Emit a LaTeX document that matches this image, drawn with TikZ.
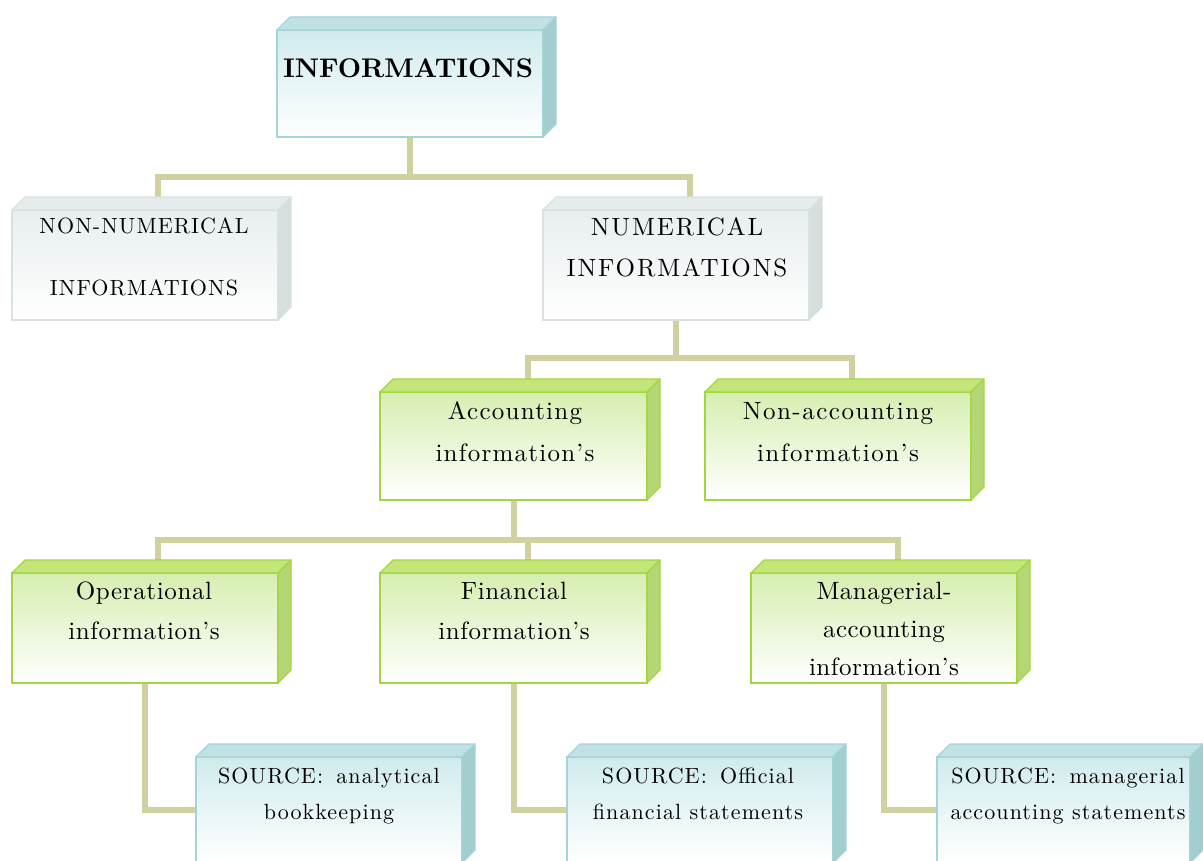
\documentclass[tikz,border=0pt]{standalone}
\usepackage{fontspec}
\setmainfont{lmroman10}[Extension=.otf, UprightFont=*-regular, BoldFont=*-bold, ItalicFont=*-italic, BoldItalicFont=*-bolditalic]
\usetikzlibrary{calc,backgrounds}
\definecolor{bluebd}{RGB}{164,212,214}
\definecolor{bluetopf}{RGB}{192,226,228}
\definecolor{bluesidef}{RGB}{162,206,208}
\definecolor{bluegrad}{RGB}{208,235,237}
\definecolor{greybd}{RGB}{216,224,224}
\definecolor{greytopf}{RGB}{230,236,236}
\definecolor{greysidef}{RGB}{214,222,222}
\definecolor{greygrad}{RGB}{232,238,238}
\definecolor{greenbd}{RGB}{162,214,62}
\definecolor{greentopf}{RGB}{196,230,120}
\definecolor{greensidef}{RGB}{180,214,116}
\definecolor{greengrad}{RGB}{214,238,176}
\definecolor{connc}{RGB}{208,208,160}
\newcommand{\cubefaces}[4]{%
  \filldraw[fill=#2, draw=#4, line width=1.2pt, line join=round] (#1.north west) -- ++(13,-13) -- ($(#1.north east)+(13,-13)$) -- (#1.north east) -- cycle;
  \filldraw[fill=#3, draw=#4, line width=1.2pt, line join=round] (#1.north east) -- ++(13,-13) -- ($(#1.south east)+(13,-13)$) -- (#1.south east) -- cycle;
}
\newcommand{\ls}[1]{\addfontfeatures{LetterSpace=#1}}
\tikzset{
  front/.style={rectangle, outer sep=0pt, inner sep=0pt, bottom color=white},
  bluebox/.style={front, draw=bluebd, line width=2pt, top color=bluegrad},
  greybox/.style={front, draw=greybd, line width=2pt, top color=greygrad},
  greenbox/.style={front, draw=greenbd, line width=2.6pt, top color=greengrad},
  conn/.style={draw=connc, line width=6pt, line join=miter},
  txt/.style={inner sep=0pt, outer sep=0pt, anchor=north, align=center, text=black},
}
\begin{document}
\begin{tikzpicture}[x=1pt, y=-1pt]
\useasboundingbox (0,0) rectangle (1203,861);
\clip (0,0) rectangle (1203,861);
% boxes
\node[bluebox, minimum width=266pt, minimum height=107pt] (info) at (410,83.5) {};
\cubefaces{info}{bluetopf}{bluesidef}{bluebd}
\node[greybox, minimum width=266pt, minimum height=110pt] (nonnum) at (145,265) {};
\cubefaces{nonnum}{greytopf}{greysidef}{greybd}
\node[greybox, minimum width=266pt, minimum height=110pt] (num) at (676,265) {};
\cubefaces{num}{greytopf}{greysidef}{greybd}
\node[greenbox, minimum width=267pt, minimum height=108pt] (acc) at (513.5,446) {};
\cubefaces{acc}{greentopf}{greensidef}{greenbd}
\node[greenbox, minimum width=266pt, minimum height=108pt] (nonacc) at (838,446) {};
\cubefaces{nonacc}{greentopf}{greensidef}{greenbd}
\node[greenbox, minimum width=266pt, minimum height=110pt] (op) at (145,628) {};
\cubefaces{op}{greentopf}{greensidef}{greenbd}
\node[greenbox, minimum width=267pt, minimum height=110pt] (fin) at (513.5,628) {};
\cubefaces{fin}{greentopf}{greensidef}{greenbd}
\node[greenbox, minimum width=266pt, minimum height=110pt] (man) at (884,628) {};
\cubefaces{man}{greentopf}{greensidef}{greenbd}
\node[bluebox, minimum width=266pt, minimum height=106pt] (src1) at (329,810) {};
\cubefaces{src1}{bluetopf}{bluesidef}{bluebd}
\node[bluebox, minimum width=266pt, minimum height=106pt] (src2) at (700,810) {};
\cubefaces{src2}{bluetopf}{bluesidef}{bluebd}
\node[bluebox, minimum width=253pt, minimum height=106pt] (src3) at (1063.5,810) {};
\cubefaces{src3}{bluetopf}{bluesidef}{bluebd}
% texts
\node[txt, font=\fontsize{27}{32}\selectfont\bfseries] (tinfo) at (408,59) {INFORMATIONS};
\node[txt, font=\fontsize{22}{62}\selectfont\ls{5}] (tnonnum) at (144,218) {NON-NUMERICAL\\INFORMATIONS};
\node[txt, font=\fontsize{25}{41}\selectfont\ls{7.5}] (tnum) at (677,218) {NUMERICAL\\INFORMATIONS};
\node[txt, font=\fontsize{25}{42}\selectfont\ls{5}] (tacc) at (515,402) {Accounting\\information’s};
\node[txt, font=\fontsize{25}{42}\selectfont\ls{6}] (tnonacc) at (838,402) {Non-accounting\\information’s};
\node[txt, font=\fontsize{25}{40}\selectfont\ls{2.5}] (top) at (144,582) {Operational\\information’s};
\node[txt, font=\fontsize{25}{40}\selectfont\ls{2.5}] (tfin) at (514,582) {Financial\\information’s};
\node[txt, font=\fontsize{25}{38}\selectfont\ls{2}] (tman) at (884,582) {Managerial-\\accounting\\information’s};
\node[txt, font=\fontsize{22}{36}\selectfont\ls{5}] (tsrc1) at (329,768) {SOURCE:\hspace{0.6em}analytical\\bookkeeping};
\node[txt, font=\fontsize{22}{36}\selectfont\ls{5}] (tsrc2) at (698,768) {SOURCE:\hspace{0.6em}Official\\financial statements};
\node[txt, font=\fontsize{22}{36}\selectfont\ls{5}] (tsrc3) at (1068,768) {SOURCE:\hspace{0.6em}managerial\\accounting statements};
% connectors
\begin{scope}[on background layer]
\coordinate (j1) at (408,177);
\coordinate (j2) at (676,358);
\coordinate (j3) at (514,540);
\coordinate (innonnum) at ($(nonnum.north)+(13,0)$);
\coordinate (innum) at ($(num.north)+(14,0)$);
\coordinate (inacc) at ($(acc.north)+(14,0)$);
\coordinate (innonacc) at ($(nonacc.north)+(14,0)$);
\coordinate (inop) at ($(op.north)+(13,0)$);
\coordinate (infin) at ($(fin.north)+(14,0)$);
\coordinate (inman) at ($(man.north)+(14,0)$);
\draw[conn] (info.south) -- (info.south |- j1);
\draw[conn] (innonnum) |- (j1) -| (innum);
\draw[conn] (num.south) -- (num.south |- j2);
\draw[conn] (inacc) |- (j2) -| (innonacc);
\draw[conn] (acc.south) -- (acc.south |- j3);
\draw[conn] (inop) |- (j3) -| (inman);
\draw[conn] (infin) -- (infin |- j3);
\draw[conn] (op.south) |- (src1.west);
\draw[conn] (fin.south) |- (src2.west);
\draw[conn] (man.south) |- (src3.west);
\end{scope}
\end{tikzpicture}
\end{document}
